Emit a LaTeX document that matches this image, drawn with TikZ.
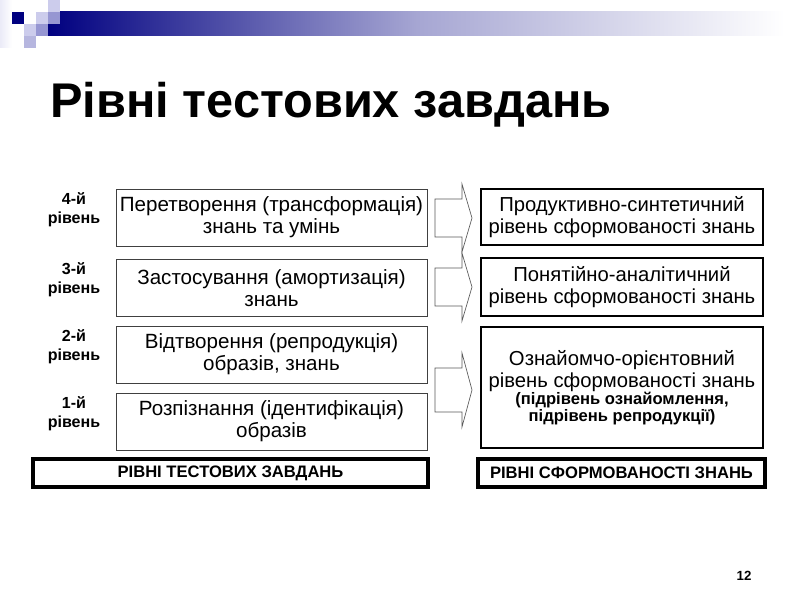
\documentclass[tikz,border=0pt]{standalone}
\usepackage{fontspec}
\setmainfont{Liberation Sans}
\usetikzlibrary{positioning}
\newcommand{\pxu}{0.9034pt}
\definecolor{navy}{RGB}{0,0,128}
\definecolor{lilac}{RGB}{204,204,236}
\definecolor{midlilac}{RGB}{150,150,210}
\tikzset{
  testbox/.style={draw=black!75,line width=0.7pt,minimum width=311*\pxu,minimum height=57*\pxu,
    align=center,font=\fontsize{18.6}{20}\selectfont,inner sep=1pt},
  levelbox/.style={draw=black,line width=1.3pt,minimum width=282*\pxu,align=center,
    font=\fontsize{18.3}{20}\selectfont,inner sep=1pt},
  basebox/.style={draw=black,line width=3pt,minimum height=28*\pxu,
    font=\fontsize{15}{16}\selectfont\bfseries,inner sep=1pt},
  levellabel/.style={align=center,font=\fontsize{14.5}{17}\selectfont\bfseries},
  blockarrow/.style={draw=black!65,line width=0.6pt,fill=white}
}
\begin{document}
\begin{tikzpicture}[x=\pxu,y=-\pxu]
  \useasboundingbox (0,0) rectangle (800,600);

  % header strip
  \shade[left color=lilac!40,right color=white] (0,0) rectangle (12,48);
  \shade[left color=navy,right color=white,middle color=navy!35] (48,12) rectangle (785,36);
  \fill[lilac] (48,0) rectangle (60,12);
  \fill[navy] (12,12) rectangle (24,24);
  \fill[lilac] (36,12) rectangle (48,24);
  \fill[midlilac] (48,12) rectangle (60,24);
  \fill[lilac] (24,24) rectangle (36,36);
  \fill[midlilac] (36,24) rectangle (48,36);
  \fill[midlilac!70] (24,36) rectangle (36,48);

  \node[anchor=base west,inner sep=0pt,font=\fontsize{44}{46}\selectfont\bfseries] (title) at (50,118) {Рівні тестових завдань};

  % test levels
  \node[testbox] (test4) at (271.5,217.5) {Перетворення (трансформація)\\знань та умінь};
  \node[testbox] (test3) at (271.5,288) {Застосування (амортизація)\\знань};
  \node[testbox] (test2) at (271.5,354.5) {Відтворення (репродукція)\\образів, знань};
  \node[testbox] (test1) at (271.5,421.5) {Розпізнання (ідентифікація)\\образів};

  \node[levellabel] (lvl4) at (74,210) {4-й\\рівень};
  \node[levellabel] (lvl3) at (74,280) {3-й\\рівень};
  \node[levellabel] (lvl2) at (74,347) {2-й\\рівень};
  \node[levellabel] (lvl1) at (74,414) {1-й\\рівень};

  % formed levels
  \node[levelbox,minimum height=56*\pxu] (form4) at (622,217) {Продуктивно-синтетичний\\рівень сформованості знань};
  \node[levelbox,minimum height=58*\pxu] (form3) at (622,287) {Понятійно-аналітичний\\рівень сформованості знань};
  \node[levelbox,minimum height=121*\pxu] (form1) at (622,387.5) {Ознайомчо-орієнтовний\\рівень сформованості знань\\[-4pt]
    {\fontsize{15}{15}\selectfont\bfseries (підрівень ознайомлення,}\\[-5pt]
    {\fontsize{15}{15}\selectfont\bfseries підрівень репродукції)}};

  \foreach \y/\s/\h in {218/19/34, 287/19/34, 390/22/37}
    \draw[blockarrow] (435,\y-\s) -- (462,\y-\s) -- (462,\y-\h) -- (472,\y)
      -- (462,\y+\h) -- (462,\y+\s) -- (435,\y+\s) -- cycle;

  \node[basebox,minimum width=395*\pxu] (testbase) at (230.5,473) {РІВНІ ТЕСТОВИХ ЗАВДАНЬ};
  \node[basebox,minimum width=287*\pxu] (formbase) at (621.5,473) {РІВНІ СФОРМОВАНОСТІ ЗНАНЬ};

  \node[font=\fontsize{12}{14}\selectfont\bfseries] (pagenum) at (744,576) {12};
\end{tikzpicture}
\end{document}
